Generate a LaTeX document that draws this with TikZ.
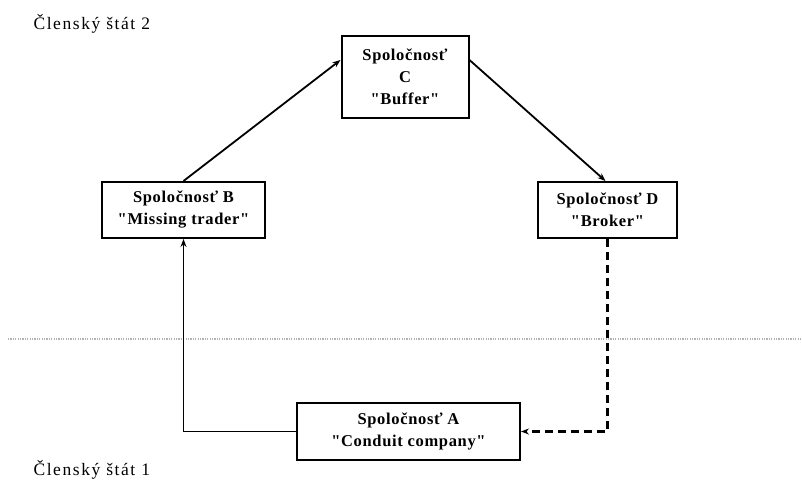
\documentclass[tikz,border=0pt]{standalone}
\usepackage{fontspec}
\setmainfont{Liberation Serif}[Ligatures=TeXOff]
\usetikzlibrary{arrows.meta}
\tikzset{
  firm/.style={draw, line width=2pt, fill=white, align=center, font=\fontsize{16.5}{22}\selectfont\bfseries\addfontfeature{LetterSpace=4}, inner sep=0pt},
  conn/.style={line width=1.8pt, -{Stealth[length=8pt,width=6pt]}},
  dconn/.style={line width=2.2pt, dash pattern=on 8pt off 5pt, -{Stealth[length=8pt,width=6pt]}},
  state/.style={anchor=west, font=\fontsize{17.5}{20}\selectfont\addfontfeature{LetterSpace=9}},
}
\begin{document}
\begin{tikzpicture}[x=1pt,y=-1pt]
\useasboundingbox (0,0) rectangle (802,495);
\fill[white] (0,0) rectangle (802,495);
\draw[gray!60, line width=2.5pt, dash pattern=on 1.2pt off 1.2pt] (8,339) -- (802,339);
\node[state] (s2) at (30,24) {Členský štát 2};
\node[state] (s1) at (30,470) {Členský štát 1};
\node[firm, minimum width=127pt, minimum height=81pt] (C) at (405,77) {Spoločnosť\\C\\"Buffer"};
\node[firm, minimum width=163pt, minimum height=56pt] (B) at (183.5,210) {Spoločnosť B\\"Missing trader"};
\node[firm, minimum width=139pt, minimum height=56pt] (D) at (607.5,210) {Spoločnosť D\\"Broker"};
\node[firm, minimum width=223pt, minimum height=57pt] (A) at (408.5,431.5) {Spoločnosť A\\"Conduit company"};
\draw[conn] (B.north) -- ([yshift=17pt]C.west);
\draw[conn] ([yshift=17pt]C.east) -- ([xshift=-2pt]D.north);
\draw[dconn] (D.south) |- (A.east);
\draw[conn] (A.west) -| (B.south);
\end{tikzpicture}
\end{document}
